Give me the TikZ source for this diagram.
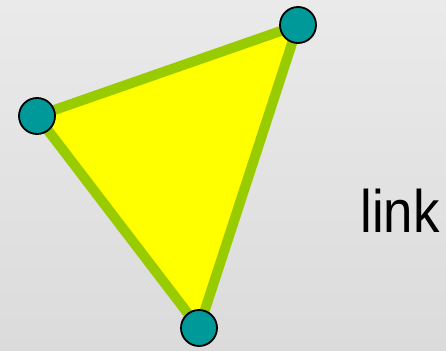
\documentclass[tikz,border=0pt]{standalone}
\usepackage{fontspec}
\setmainfont{Liberation Sans}
\definecolor{facefill}{RGB}{255,255,0}
\definecolor{edgegreen}{RGB}{153,204,0}
\definecolor{vertexteal}{RGB}{0,153,153}
\definecolor{bgtop}{RGB}{234,234,234}
\definecolor{bgbottom}{RGB}{219,219,219}
\begin{document}
\begin{tikzpicture}[x=1pt,y=-1pt,
  vertex/.style={circle,draw=black,line width=1.8pt,fill=vertexteal,minimum size=36pt,inner sep=0pt},
  face/.style={fill=facefill,draw=edgegreen,line width=10pt,line join=round}]
  \shade[top color=bgtop,bottom color=bgbottom] (0,0) rectangle (446,350);
  \useasboundingbox (0,0) rectangle (446,350);
  \coordinate (pa) at (298,25);
  \coordinate (pb) at (37,116);
  \coordinate (pc) at (199,328);
  \draw[face] (pa) -- (pb) -- (pc) -- cycle;
  \node[vertex] (a) at (pa) {};
  \node[vertex] (b) at (pb) {};
  \node[vertex] (c) at (pc) {};
  \node[anchor=base,inner sep=0pt,xscale=0.88] (lbl) at (400,232) {\fontsize{60}{72}\selectfont link};
\end{tikzpicture}
\end{document}
